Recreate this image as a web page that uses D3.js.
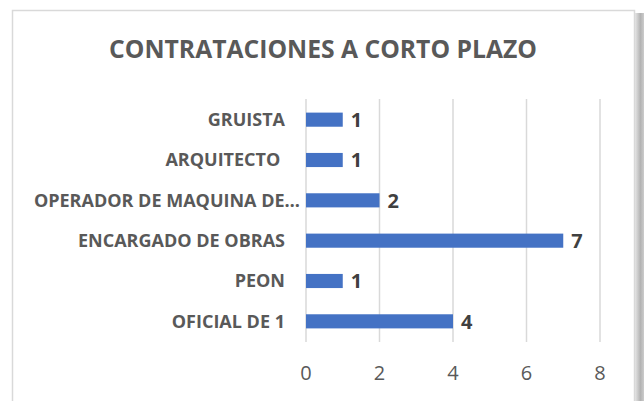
<!DOCTYPE html>
<html>
<head>
<meta charset="utf-8">
<script src="https://cdn.jsdelivr.net/npm/d3@7"></script>
<style>
  body { margin: 0; background: #fff; }
  svg { display: block; font-family: "Open Sans", sans-serif; }
</style>
</head>
<body>
<svg id="chart" width="644" height="401"></svg>
<script>
// Data
const categories = ["GRUISTA", "ARQUITECTO ", "OPERADOR DE MAQUINA DE…", "ENCARGADO DE OBRAS", "PEON", "OFICIAL DE 1"];
const values = [1, 1, 2, 7, 1, 4];
const ticks = [0, 2, 4, 6, 8];
const title = "CONTRATACIONES A CORTO PLAZO";

const svg = d3.select("#chart");
const width = 644, height = 401;

// frame shadow on the right
const grad = svg.append("defs").append("linearGradient")
  .attr("id", "shade").attr("x1", 0).attr("x2", 1).attr("y1", 0).attr("y2", 0);
grad.append("stop").attr("offset", "0%").attr("stop-color", "#e6e6e6");
grad.append("stop").attr("offset", "60%").attr("stop-color", "#b3b3b3");
grad.append("stop").attr("offset", "100%").attr("stop-color", "#cccccc");
svg.append("rect")
  .attr("x", 635).attr("y", 13).attr("width", 9).attr("height", height)
  .attr("fill", "url(#shade)");

svg.append("rect")
  .attr("x", 12.5).attr("y", 10.5).attr("width", 622).attr("height", 400)
  .attr("fill", "#fff").attr("stroke", "#d9d9d9").attr("stroke-width", 1.5);

const x = d3.scaleLinear().domain([0, 8]).range([306, 600]);
const y = d3.scaleBand().domain(categories).range([99.5, 341.5]).paddingInner(0.65).paddingOuter(0.325);

// gridlines
svg.append("g")
  .selectAll("line")
  .data(ticks)
  .enter().append("line")
  .attr("x1", d => x(d)).attr("x2", d => x(d))
  .attr("y1", 99).attr("y2", 342)
  .attr("stroke", "#d9d9d9")
  .attr("stroke-width", 1.5);

// tick labels
svg.append("g")
  .selectAll("text")
  .data(ticks)
  .enter().append("text")
  .attr("x", d => x(d))
  .attr("y", 380)
  .attr("text-anchor", "middle")
  .attr("fill", "#595959")
  .attr("font-size", "20px")
  .text(d => d);

// bars
svg.append("g")
  .selectAll("rect")
  .data(values)
  .enter().append("rect")
  .attr("x", x(0))
  .attr("y", (d, i) => y(categories[i]))
  .attr("width", d => x(d) - x(0))
  .attr("height", y.bandwidth())
  .attr("fill", "#4472c4");

// value labels
svg.append("g")
  .selectAll("text")
  .data(values)
  .enter().append("text")
  .attr("x", d => x(d) + 8)
  .attr("y", (d, i) => y(categories[i]) + y.bandwidth() / 2)
  .attr("dy", "0.36em")
  .attr("fill", "#404040")
  .attr("font-weight", "bold")
  .attr("font-size", "20px")
  .text(d => d);

// category labels (truncated label sits closer to the axis, like Excel)
svg.append("g")
  .selectAll("text")
  .data(categories)
  .enter().append("text")
  .attr("x", d => d.endsWith("…") ? 300 : 285)
  .attr("y", d => y(d) + y.bandwidth() / 2)
  .attr("dy", "0.36em")
  .attr("text-anchor", "end")
  .attr("fill", "#595959")
  .attr("font-weight", "bold")
  .attr("font-size", "18px")
  .attr("xml:space", "preserve")
  .style("white-space", "pre")
  .text(d => d);

// title
svg.append("text")
  .attr("x", 323)
  .attr("y", 58)
  .attr("text-anchor", "middle")
  .attr("fill", "#595959")
  .attr("font-weight", "bold")
  .attr("font-size", "24.7px")
  .text(title);
</script>
</body>
</html>
